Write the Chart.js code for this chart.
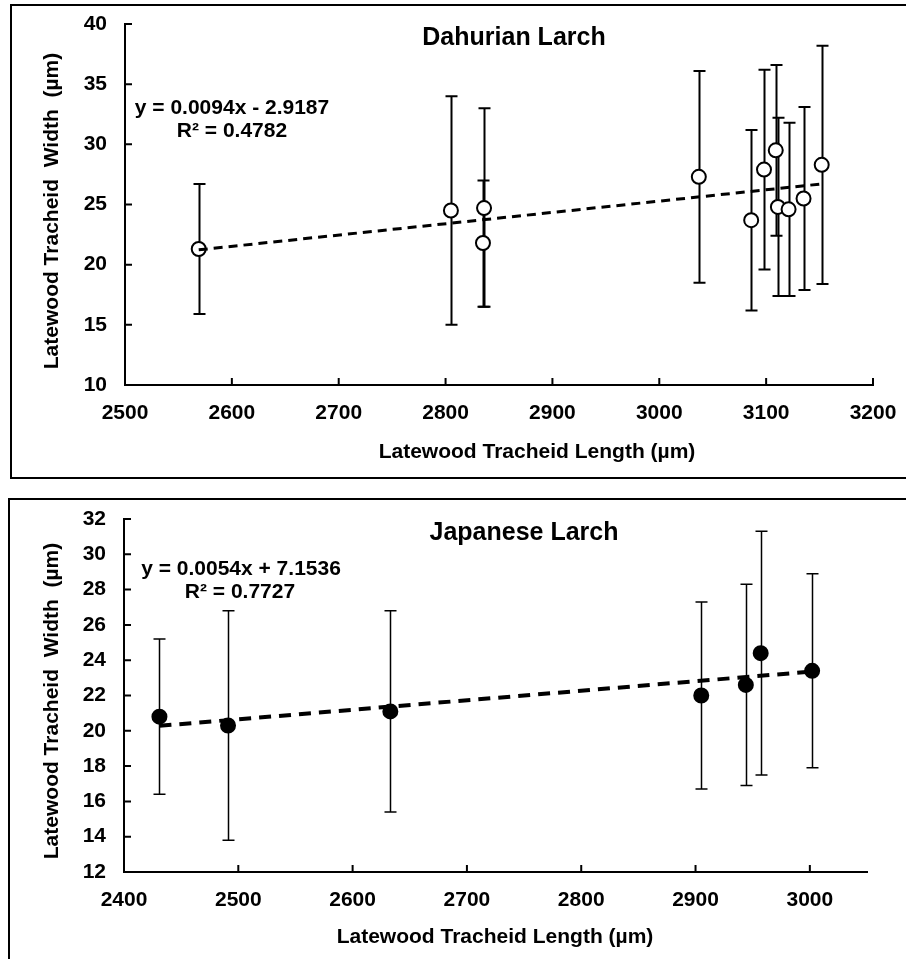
<!DOCTYPE html>
<html lang="en">
<head>
  <meta charset="UTF-8" />
  <title>Latewood tracheid width vs length</title>
  <script src="https://cdn.jsdelivr.net/npm/chart.js"></script>
  <style>
    body { margin: 0; width: 906px; height: 959px; overflow: hidden; background: #fff; position: relative; }
    .box { position: absolute; border: 2px solid #000; width: 1000px; }
    #box1 { left: 10px; top: 4px; height: 471px; }
    #box2 { left: 8px; top: 498px; height: 600px; }
    .wrap { position: absolute; left: 0; width: 906px; }
    #wrap1 { top: 0; height: 480px; }
    #wrap2 { top: 480px; height: 479px; }
  </style>
</head>
<body>

<div class="box" id="box1"></div>
<div class="box" id="box2"></div>
<div class="wrap" id="wrap1"><canvas id="chart1" width="906" height="480"></canvas></div>
<div class="wrap" id="wrap2"><canvas id="chart2" width="906" height="479"></canvas></div>

<script>
  // Dahurian Larch
  const dahLength = [2569, 2805, 2836, 2835, 3037, 3086, 3098, 3109, 3111, 3121, 3135, 3152];
  const dahWidth  = [21.3, 24.5, 24.7, 21.8, 27.3, 23.7, 27.9, 29.5, 24.8, 24.6, 25.5, 28.3];
  const dahHigh   = [26.7, 34.0, 33.0, 27.0, 36.1, 31.2, 36.2, 36.6, 32.2, 31.8, 33.1, 38.2];
  const dahLow    = [15.9, 15.0, 16.5, 16.5, 18.5, 16.2, 19.6, 22.4, 17.4, 17.4, 17.9, 18.4];
  const dahTrendX = [2569, 3152];
  const dahTrendY = [21.23, 26.71];
  const dahXTicks = [2500, 2600, 2700, 2800, 2900, 3000, 3100, 3200];
  const dahYTicks = [10, 15, 20, 25, 30, 35, 40];

  // Japanese Larch
  const japLength = [2431, 2491, 2633, 2905, 2944, 2957, 3002];
  const japWidth  = [20.8, 20.3, 21.1, 22.0, 22.6, 24.4, 23.4];
  const japHigh   = [25.2, 26.8, 26.8, 27.3, 28.3, 31.3, 28.9];
  const japLow    = [16.4, 13.8, 15.4, 16.7, 16.9, 17.5, 17.9];
  const japTrendX = [2431, 3002];
  const japTrendY = [20.28, 23.36];
  const japXTicks = [2400, 2500, 2600, 2700, 2800, 2900, 3000];
  const japYTicks = [12, 14, 16, 18, 20, 22, 24, 26, 28, 30, 32];

  const FONT = "'Liberation Sans', Arial, sans-serif";

  const toPoints = (xs, ys) => xs.map((x, i) => ({ x: x, y: ys[i] }));

  // error bars under the markers
  const errorBars = {
    id: 'errorBars',
    beforeDatasetsDraw(chart, args, opts) {
      const { ctx, scales: { x, y } } = chart;
      ctx.save();
      ctx.strokeStyle = '#000';
      ctx.lineWidth = opts.width;
      opts.xs.forEach((v, i) => {
        const px = Math.round(x.getPixelForValue(v)) + 0.5;
        const top = y.getPixelForValue(opts.high[i]);
        const bot = y.getPixelForValue(opts.low[i]);
        ctx.beginPath();
        ctx.moveTo(px, top); ctx.lineTo(px, bot);
        ctx.moveTo(px - opts.cap, top); ctx.lineTo(px + opts.cap, top);
        ctx.moveTo(px - opts.cap, bot); ctx.lineTo(px + opts.cap, bot);
        ctx.stroke();
      });
      ctx.restore();
    }
  };

  // tick marks pointing into the plot
  const innerTicks = {
    id: 'innerTicks',
    afterDraw(chart) {
      const { ctx, scales: { x, y } } = chart;
      ctx.save();
      ctx.strokeStyle = '#000';
      ctx.lineWidth = 2;
      ctx.beginPath();
      x.ticks.forEach(t => {
        const px = x.getPixelForValue(t.value);
        ctx.moveTo(px, x.top); ctx.lineTo(px, x.top - 7);
      });
      y.ticks.forEach(t => {
        const py = y.getPixelForValue(t.value);
        ctx.moveTo(y.right, py); ctx.lineTo(y.right + 7, py);
      });
      ctx.stroke();
      ctx.restore();
    }
  };

  // chart title, trend equation and axis titles
  const labels = {
    id: 'labels',
    afterDraw(chart, args, opts) {
      const ctx = chart.ctx;
      ctx.save();
      ctx.fillStyle = '#000';
      ctx.textAlign = 'center';
      ctx.textBaseline = 'middle';
      opts.items.forEach(it => {
        ctx.font = 'bold ' + it.size + 'px ' + FONT;
        ctx.save();
        ctx.translate(it.x, it.y);
        if (it.rotate) ctx.rotate(-Math.PI / 2);
        ctx.fillText(it.text, 0, 0);
        ctx.restore();
      });
      ctx.restore();
    }
  };

  function axis(min, max, tickList, fit, pad, horizontal) {
    return {
      type: 'linear',
      min: min,
      max: max,
      afterBuildTicks: s => { s.ticks = tickList.map(v => ({ value: v })); },
      afterFit: s => { if (horizontal) s.height = fit; else s.width = fit; },
      grid: { display: false },
      border: { display: true, color: '#000', width: 2 },
      ticks: {
        color: '#000',
        padding: pad,
        autoSkip: false,
        maxRotation: 0,
        callback: v => String(v),
        font: { family: FONT, size: 21, weight: 'bold' }
      }
    };
  }

  function makeChart(id, d) {
    return new Chart(document.getElementById(id), {
      type: 'scatter',
      data: {
        datasets: [
          {
            type: 'line',
            data: toPoints(d.trendX, d.trendY),
            borderColor: '#000',
            borderWidth: d.trendWidth,
            borderDash: d.dash,
            pointRadius: 0,
            fill: false,
            order: 0
          },
          {
            data: toPoints(d.xs, d.ys),
            pointRadius: 7,
            pointBorderWidth: 2,
            pointBorderColor: '#000',
            pointBackgroundColor: d.fill,
            showLine: false,
            order: 1
          }
        ]
      },
      options: {
        responsive: false,
        animation: false,
        events: [],
        layout: { padding: d.padding },
        plugins: {
          legend: { display: false },
          tooltip: { enabled: false },
          errorBars: { xs: d.xs, high: d.high, low: d.low, width: d.barWidth, cap: 6 },
          labels: { items: d.texts }
        },
        scales: {
          x: axis(d.xMin, d.xMax, d.xTicks, d.xFit, 8, true),
          y: axis(d.yMin, d.yMax, d.yTicks, d.yFit, 10, false)
        }
      },
      plugins: [errorBars, innerTicks, labels]
    });
  }

  makeChart('chart1', {
    xs: dahLength, ys: dahWidth, high: dahHigh, low: dahLow,
    trendX: dahTrendX, trendY: dahTrendY,
    xTicks: dahXTicks, yTicks: dahYTicks,
    xMin: 2500, xMax: 3200, yMin: 10, yMax: 40,
    xFit: 95, yFit: 125,
    padding: { top: 24, right: 33, left: 0, bottom: 0 },
    fill: '#fff', trendWidth: 3, dash: [9, 6], barWidth: 2,
    texts: [
      { text: 'Dahurian Larch', x: 514, y: 38, size: 25 },
      { text: 'y = 0.0094x - 2.9187', x: 232, y: 108, size: 21 },
      { text: 'R² = 0.4782', x: 232, y: 131, size: 21 },
      { text: 'Latewood Tracheid Length (µm)', x: 537, y: 452, size: 21 },
      { text: 'Latewood Tracheid  Width  (µm)', x: 52, y: 211, size: 21, rotate: true }
    ]
  });

  makeChart('chart2', {
    xs: japLength, ys: japWidth, high: japHigh, low: japLow,
    trendX: japTrendX, trendY: japTrendY,
    xTicks: japXTicks, yTicks: japYTicks,
    xMin: 2400, xMax: 3050, yMin: 12, yMax: 32,
    xFit: 87, yFit: 124,
    padding: { top: 39, right: 39, left: 0, bottom: 0 },
    fill: '#000', trendWidth: 4, dash: [12, 8], barWidth: 1.5,
    texts: [
      { text: 'Japanese Larch', x: 524, y: 53, size: 25 },
      { text: 'y = 0.0054x + 7.1536', x: 241, y: 89, size: 21 },
      { text: 'R² = 0.7727', x: 240, y: 112, size: 21 },
      { text: 'Latewood Tracheid Length (µm)', x: 495, y: 457, size: 21 },
      { text: 'Latewood Tracheid  Width  (µm)', x: 52, y: 221, size: 21, rotate: true }
    ]
  });
</script>

</body>
</html>
